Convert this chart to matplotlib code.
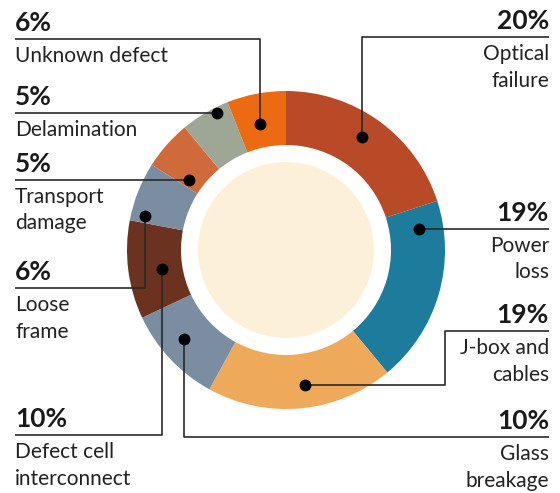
import numpy as np
import matplotlib
matplotlib.use('Agg')
import matplotlib.pyplot as plt
from matplotlib.patches import Circle

plt.rcParams['font.family'] = ['Lato', 'DejaVu Sans']

# failure causes, clockwise from 12 o'clock
labels = ['Optical\nfailure', 'Power\nloss', 'J-box and\ncables', 'Glass\nbreakage',
          'Defect cell\ninterconnect', 'Loose\nframe', 'Transport\ndamage',
          'Delamination', 'Unknown defect']
values = [20, 19, 19, 10, 10, 6, 5, 5, 6]
colors = ['#B84A28', '#1D7B9B', '#EEA95A', '#7B8DA1', '#6B3220',
          '#7B8DA1', '#D06A3B', '#9EA696', '#EC6B12']

# leader layout: where the dot sits inside its wedge (fraction of wedge, radius),
# which side the label goes to, and how the line is routed
dot_pos = [(0.47, 136), (0.13, 135), (0.46, 136), (0.56, 135), (0.46, 125),
           (0.13, 145), (0.19, 120), (0.72, 153), (0.46, 129)]
sides = ['right', 'right', 'right', 'right', 'left', 'left', 'left', 'left', 'left']
routes = [('v', 37), ('h', None), ('hv', (445, 331)), ('v', 437), ('v', 435),
          ('v', 288), ('h', None), ('h', None), ('v', 39)]

W, H = 560, 493
cx, cy = 286, 250
r_out, r_in, r_core = 159, 105, 88
x_left, x_right = 15, 549

fig = plt.figure(figsize=(W / 100, H / 100), dpi=100)
ax = fig.add_axes([0, 0, 1, 1])

# y axis is flipped, so counterclock=True runs clockwise on screen
wedges, _ = ax.pie(values, colors=colors, startangle=-90, counterclock=True,
                   center=(cx, cy), radius=r_out,
                   wedgeprops=dict(width=r_out - r_in, linewidth=0))
ax.add_patch(Circle((cx, cy), r_core, facecolor='#FDF0D8', edgecolor='none', zorder=2))

ax.set_xlim(0, W)
ax.set_ylim(H, 0)
ax.set_aspect('equal')
ax.axis('off')

line_kw = dict(color='#2a2a2a', lw=1.2, zorder=3, solid_capstyle='butt')

for w, lab, val, (f, rr), side, (kind, arg) in zip(wedges, labels, values, dot_pos, sides, routes):
    th = np.radians(w.theta1 + f * (w.theta2 - w.theta1))
    dx = cx + rr * np.cos(th)
    dy = cy + rr * np.sin(th)
    x_end = x_right if side == 'right' else x_left

    if kind == 'h':
        ly = dy
        xs, ys = [dx, x_end], [dy, dy]
    elif kind == 'v':
        ly = arg
        xs, ys = [dx, dx, x_end], [dy, ly, ly]
    else:
        xe, ly = arg
        xs, ys = [dx, xe, xe, x_end], [dy, dy, ly, ly]

    ax.plot(xs, ys, **line_kw)
    ax.plot(dx, dy, 'o', color='black', markersize=7.5, zorder=4)

    ha = 'right' if side == 'right' else 'left'
    ax.text(x_end, ly - 8, f'{val}%', ha=ha, va='baseline', fontsize=19,
            fontweight='bold', color='#1a1a1a')
    ax.text(x_end, ly + 7, lab, ha=ha, va='top', fontsize=15,
            color='#222222', linespacing=1.42, multialignment=ha)

fig.savefig('out.png', dpi=100, facecolor='white')
